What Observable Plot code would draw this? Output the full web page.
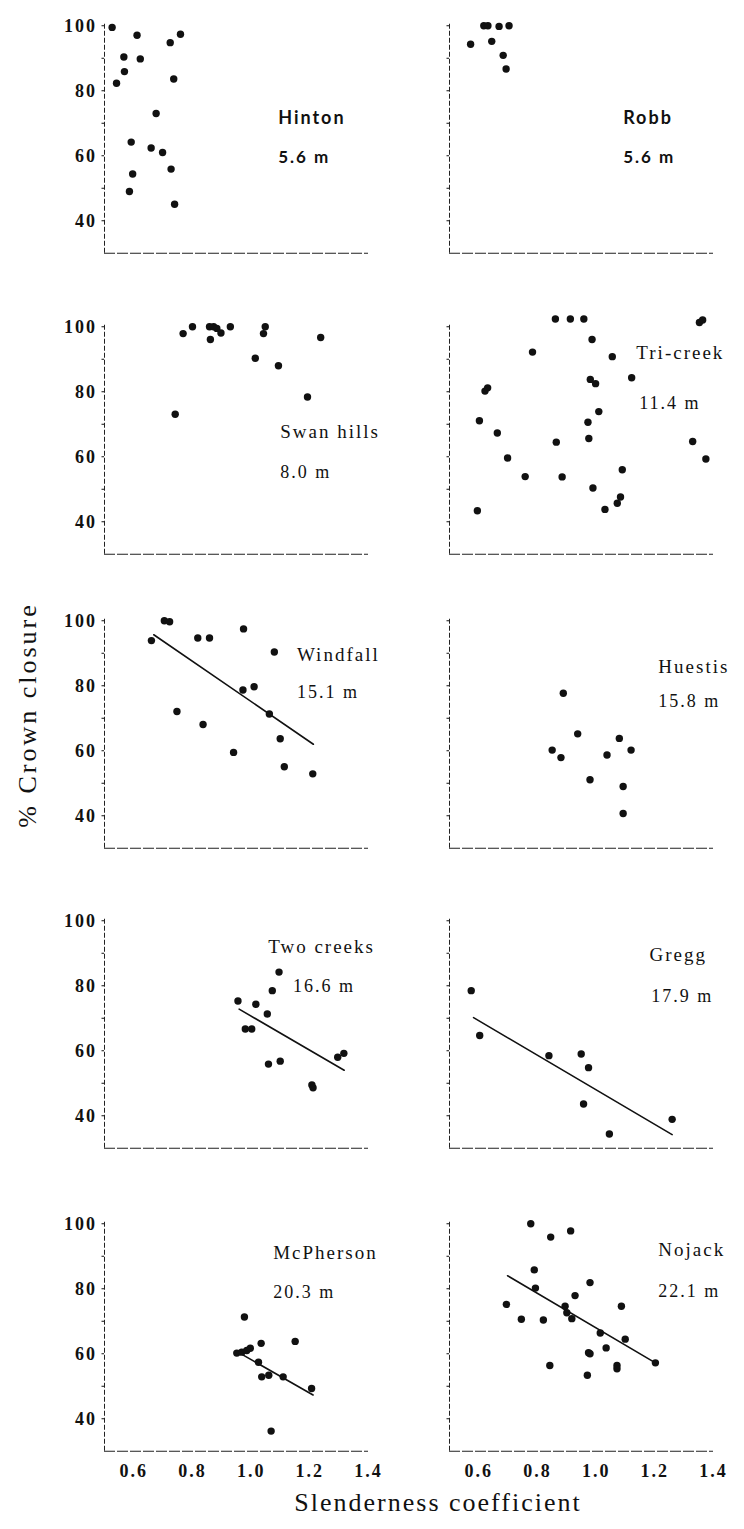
<!DOCTYPE html>
<html>
<head>
<meta charset="utf-8">
<script src="https://cdn.jsdelivr.net/npm/d3@7"></script>
<script src="https://cdn.jsdelivr.net/npm/@observablehq/plot@0.6"></script>
<style>
  html, body { margin: 0; padding: 0; background: #fff; }
  #chart { position: relative; width: 744px; height: 1529px; background: #fff; overflow: hidden; }
  #chart svg { position: absolute; overflow: visible; }
  #ytitle { position: absolute; left: 28px; top: 715px; transform: translate(-50%, -50%) rotate(-90deg);
            white-space: nowrap; font-family: "Liberation Serif", serif; font-size: 26px; letter-spacing: 3px; color: #111; }
  #xtitle { position: absolute; left: 438px; top: 1503px; transform: translate(-50%, -50%);
            white-space: nowrap; font-family: "Liberation Serif", serif; font-size: 26px; letter-spacing: 2px; color: #111; }
</style>
</head>
<body>
<div id="chart">
  <div id="ytitle">% Crown closure</div>
  <div id="xtitle">Slenderness coefficient</div>
</div>
<script>
// ---------- data ----------
const sites   = ["Hinton", "Robb", "Swan hills", "Tri-creek", "Windfall", "Huestis", "Two creeks", "Gregg", "McPherson", "Nojack"];
const heights = ["5.6 m", "5.6 m", "8.0 m", "11.4 m", "15.1 m", "15.8 m", "16.6 m", "17.9 m", "20.3 m", "22.1 m"];

const hintonX = [0.526,0.611,0.759,0.724,0.566,0.622,0.568,0.541,0.736,0.676,0.591,0.659,0.698,0.596,0.727,0.585,0.739];
const hintonY = [99.5,97.1,97.4,94.8,90.4,89.8,85.9,82.3,83.6,73.0,64.2,62.4,61.0,54.4,55.9,49.0,45.1];

const robbX = [0.617,0.631,0.669,0.703,0.572,0.644,0.683,0.693];
const robbY = [100,100,99.8,100,94.3,95.2,90.9,86.7];

const swanX = [0.741,0.768,0.800,0.858,0.872,0.861,0.883,0.897,0.929,1.048,1.042,1.014,1.093,1.192,1.237];
const swanY = [73.1,97.9,100,100,100,96.1,99.5,98.1,100,100,97.9,90.3,88.0,78.4,96.7];

const triX = [0.861,0.912,0.958,0.986,0.783,1.055,1.121,0.980,0.998,0.621,0.630,1.009,0.602,0.972,0.663,0.975,0.864,1.329,0.698,1.374,1.089,0.758,0.884,0.989,1.083,1.072,1.030,0.595,1.352,1.363];
const triY = [102.4,102.4,102.4,96.1,92.2,90.8,84.3,83.8,82.5,80.2,81.2,73.9,71.1,70.6,67.3,65.6,64.5,64.7,59.6,59.3,56.0,53.9,53.8,50.4,47.6,45.7,43.8,43.4,101.3,102.1];

const windX = [0.660,0.704,0.722,0.747,0.818,0.858,0.836,0.940,0.974,0.972,1.010,1.079,1.062,1.099,1.113,1.210];
const windY = [93.9,100,99.7,72.1,94.7,94.7,68.1,59.5,97.5,78.7,79.7,90.4,71.3,63.7,55.1,52.9];

const huesX = [0.888,0.937,1.079,0.850,0.880,1.037,1.119,0.979,1.092,1.092];
const huesY = [77.7,65.2,63.8,60.2,57.9,58.7,60.2,51.1,49.0,40.7];

const twoX = [0.955,1.016,1.055,1.072,1.095,0.980,1.002,1.059,1.099,1.295,1.316,1.207,1.211];
const twoY = [75.3,74.3,71.3,78.5,84.2,66.7,66.7,55.9,56.8,58.0,59.2,49.5,48.6];

const greggX = [0.574,0.603,0.839,0.949,0.974,0.957,1.045,1.259];
const greggY = [78.5,64.7,58.5,59.0,54.8,43.6,34.4,38.9];

const mcpX = [0.977,0.951,0.968,0.985,0.997,1.034,1.150,1.025,1.036,1.060,1.109,1.206,1.068];
const mcpY = [71.3,60.2,60.5,61.0,61.7,63.2,63.8,57.4,52.9,53.4,52.9,49.3,36.2];

const nojX = [0.777,0.845,0.913,0.789,0.979,0.793,0.928,0.694,0.894,0.900,0.917,1.086,0.745,0.820,1.014,1.099,1.034,0.974,0.979,0.842,1.071,1.071,0.970,1.202];
const nojY = [100,95.9,97.8,85.8,81.9,80.2,77.9,75.2,74.6,72.6,70.8,74.6,70.6,70.4,66.4,64.5,61.8,60.3,60.0,56.4,56.4,55.4,53.4,57.2];

// fitted regression lines (end points)
const fitSites = ["Windfall", "Two creeks", "Gregg", "McPherson", "Nojack"];
const fitX = [[0.668, 1.212], [0.959, 1.317], [0.582, 1.259], [0.955, 1.211], [0.698, 1.202]];
const fitY = [[95.7, 62.0], [72.8, 54.0], [70.2, 34.2], [60.5, 47.3], [84.0, 57.2]];

const seriesX = [hintonX, robbX, swanX, triX, windX, huesX, twoX, greggX, mcpX, nojX];
const seriesY = [hintonY, robbY, swanY, triY, windY, huesY, twoY, greggY, mcpY, nojY];

// tick values
const xTicks = [0.6, 0.8, 1.0, 1.2, 1.4];
const yTicks = [40, 50, 60, 70, 80, 90, 100];
const yLabelled = [40, 60, 80, 100];

// label anchor points (data units) for site name and mean height
const nameAt  = [[1.092,71.4],[1.092,71.4],[1.099,67.6],[1.137,92.1],[1.156,89.4],[1.212,85.7],[1.058,91.9],[1.182,89.5],[1.075,91.0],[1.212,91.9]];
const valueAt = [[1.092,59.6],[1.092,59.6],[1.099,55.1],[1.147,76.4],[1.156,78.1],[1.212,75.1],[1.143,79.9],[1.188,76.9],[1.075,78.8],[1.212,79.1]];
const sansSites = ["Hinton", "Robb"];

// ---------- layout ----------
const rowTop = [25, 326.7, 620, 920, 1223.3];   // page y of the 100 % level per row
const pxPerUnit = 3.25;
const yDomain = [30, 101];
const xDomain = [0.5, 1.4];

const chart = document.getElementById("chart");

sites.forEach((site, i) => {
  const col = i % 2, row = Math.floor(i / 2);
  const bottom = row === 4;
  const innerH = (yDomain[1] - yDomain[0]) * pxPerUnit;
  const mTop = 10, mBottom = bottom ? 40 : 6;
  const svgLeft = col === 0 ? 0 : 380;
  const mLeft = col === 0 ? 104 : 69;
  const svgW = col === 0 ? 380 : 364;
  const mRight = svgW - mLeft - 264;
  const pts = seriesX[i].map((x, k) => ({x, y: seriesY[i][k]}));
  const f = fitSites.indexOf(site);
  const fit = f < 0 ? [] : fitX[f].map((x, k) => ({x, y: fitY[f][k]}));
  const sans = sansSites.includes(site);
  const labelFont = sans ? "Lato, 'DejaVu Sans', sans-serif" : "'Liberation Serif', serif";

  const svg = Plot.plot({
    width: svgW,
    height: mTop + innerH + mBottom,
    marginLeft: mLeft, marginRight: mRight, marginTop: mTop, marginBottom: mBottom,
    style: {fontFamily: "'Liberation Serif', serif", fontSize: "18px", fontWeight: "bold",
            letterSpacing: "2px", color: "#111", background: "transparent", overflow: "visible"},
    x: {domain: xDomain, axis: bottom ? "bottom" : null, ticks: xTicks,
        tickFormat: d => d.toFixed(1), tickSize: 0, tickPadding: 13, label: null},
    y: {domain: yDomain, ticks: yTicks, tickSize: 2.5, tickPadding: 5, label: null,
        tickFormat: d => (col === 0 && yLabelled.includes(d)) ? String(d) : ""},
    marks: [
      Plot.ruleX([xDomain[0]], {y1: yDomain[0], y2: yDomain[1], stroke: "#222", strokeWidth: 1, strokeDasharray: "5,2"}),
      Plot.ruleY([yDomain[0]], {x1: xDomain[0], x2: xDomain[1], stroke: "#222", strokeWidth: 1.1, strokeDasharray: "11,2"}),
      Plot.line(fit, {x: "x", y: "y", stroke: "#111", strokeWidth: 1.6}),
      Plot.dot(pts, {x: "x", y: "y", r: 3.7, fill: "#111", stroke: "none"}),
      Plot.text([{x: nameAt[i][0], y: nameAt[i][1], t: site}],
        {x: "x", y: "y", text: "t", textAnchor: "start", fontSize: sans ? 18 : 19,
         fontFamily: labelFont, fontWeight: sans ? "bold" : "normal", fill: "#111"}),
      Plot.text([{x: valueAt[i][0], y: valueAt[i][1], t: heights[i]}],
        {x: "x", y: "y", text: "t", textAnchor: "start", fontSize: sans ? 17 : 18,
         fontFamily: labelFont, fontWeight: sans ? "bold" : "normal", fill: "#111"})
    ]
  });
  svg.style.left = svgLeft + "px";
  svg.style.top = (rowTop[row] - (yDomain[1] - 100) * pxPerUnit - mTop) + "px";
  chart.appendChild(svg);
});
</script>
</body>
</html>
